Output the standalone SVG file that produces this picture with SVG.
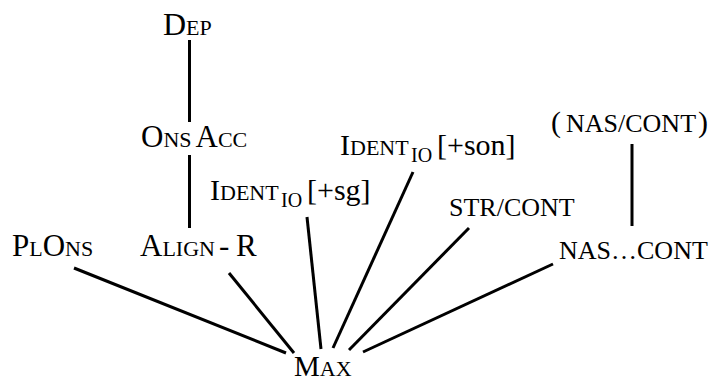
<svg xmlns="http://www.w3.org/2000/svg" width="713" height="379" viewBox="0 0 713 379" font-family="Liberation Serif">
<style>
.c { stroke: #000; stroke-width: 3; }
</style>
<rect width="713" height="379" fill="#fff"/>
<g id="connectors">
<line class="c" x1="189.5" y1="40" x2="189.5" y2="122"/>
<line class="c" x1="189.5" y1="155" x2="189.5" y2="228"/>
<line class="c" x1="632" y1="144" x2="632" y2="226"/>
<line class="c" x1="74" y1="268" x2="286" y2="353"/>
<line class="c" x1="229" y1="273" x2="294" y2="353"/>
<line class="c" x1="307" y1="217" x2="321" y2="349"/>
<line class="c" x1="413" y1="172" x2="333" y2="348"/>
<line class="c" x1="469" y1="228" x2="349" y2="350"/>
<line class="c" x1="553" y1="264" x2="363" y2="352"/>
</g>
<text id="dep" x="163" y="35" font-family="Liberation Serif" font-size="32">D<tspan font-size="22">EP</tspan></text>
<text id="onsacc" x="141" y="147" font-family="Liberation Serif" font-size="31">O<tspan font-size="22">NS</tspan><tspan dx="4">A</tspan><tspan font-size="22">CC</tspan></text>
<text id="alignr" x="140" y="256" font-family="Liberation Serif" font-size="31">A<tspan font-size="22">LIGN</tspan><tspan x="219">-</tspan><tspan x="236">R</tspan></text>
<text id="plons" x="12" y="256" font-family="Liberation Serif" font-size="31">P<tspan font-size="22">L</tspan><tspan>O</tspan><tspan font-size="22">NS</tspan></text>
<text id="identsg" x="210" y="200" font-family="Liberation Serif" font-size="30">I<tspan font-size="22">DENT</tspan><tspan x="281" y="207" font-size="20">IO</tspan><tspan x="307" y="200">[+sg]</tspan></text>
<text id="identson" x="340" y="155" font-family="Liberation Serif" font-size="30">I<tspan font-size="22">DENT</tspan><tspan x="411" y="162" font-size="20">IO</tspan><tspan x="437" y="155">[+son]</tspan></text>
<text id="strcont" x="449" y="216" font-family="Liberation Serif" font-size="26">STR/CONT</text>
<text id="nascont" x="559" y="259" font-family="Liberation Serif" font-size="26">NAS…CONT</text>
<text id="nascontopt" y="132" font-family="Liberation Serif" font-size="26"><tspan x="551" font-size="30">(</tspan><tspan x="566">NAS/CONT</tspan><tspan x="698" font-size="30">)</tspan></text>
<text id="max" x="294" y="376" font-family="Liberation Serif" font-size="29">M<tspan font-size="22">AX</tspan></text>
</svg>
